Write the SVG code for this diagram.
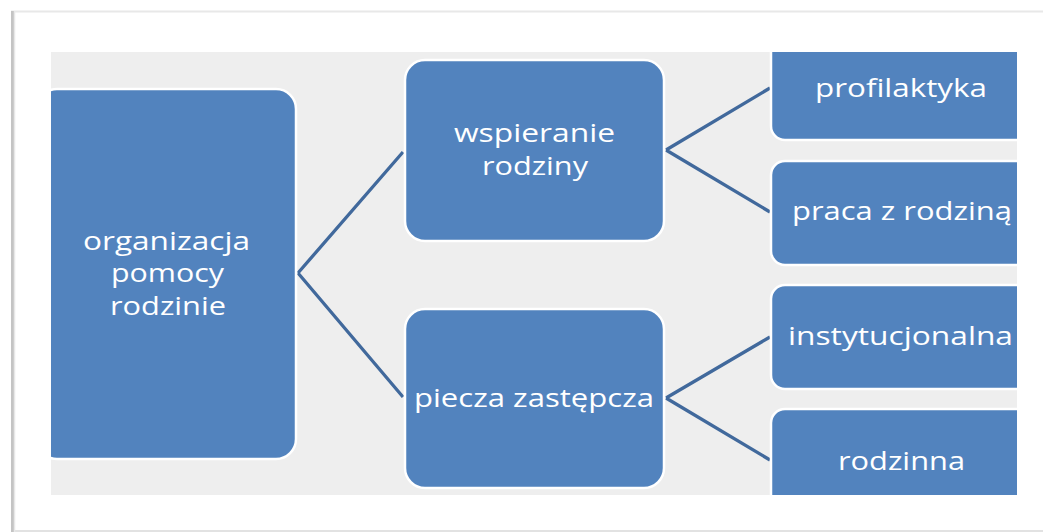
<svg xmlns="http://www.w3.org/2000/svg" width="1043" height="532" viewBox="0 0 1043 532">
<style>
.box{fill:#5283be;stroke:#ffffff;stroke-width:2.5}
.lbl{font-family:"Open Sans","Noto Sans",sans-serif;font-size:26px;fill:#ffffff;text-anchor:middle}
.sm{font-size:25px}
.con{stroke:#41699c;stroke-width:3.3;fill:none}
</style>
<defs>
<clipPath id="panel"><rect x="51" y="52" width="966" height="443"/></clipPath>
</defs>
<rect x="0" y="0" width="1043" height="532" fill="#ffffff"/>
<line x1="11" y1="11.5" x2="1043" y2="11.5" stroke="#e8e8e8" stroke-width="2"/>
<line x1="11" y1="531" x2="1043" y2="531" stroke="#e2e2e2" stroke-width="2"/>
<line x1="12.5" y1="11" x2="12.5" y2="532" stroke="#c4c4c4" stroke-width="3"/>
<line x1="14.5" y1="11" x2="14.5" y2="532" stroke="#e8e8e8" stroke-width="1.5"/>
<rect x="51" y="52" width="966" height="443" fill="#eeeeee"/>
<g clip-path="url(#panel)">
<g id="connectors">
<path class="con" d="M298 273 L403 152 M298 273 L403 397"/>
<path class="con" d="M666 150 L770 88 M666 150 L770 212"/>
<path class="con" d="M666 398 L770 337 M666 398 L770 460"/>
</g>
<g id="n-organizacja">
<rect class="box" x="37" y="89" width="259" height="370" rx="20"/>
<text class="lbl sm" x="166.5" y="250" textLength="167" lengthAdjust="spacingAndGlyphs">organizacja</text>
<text class="lbl sm" x="167.5" y="282" textLength="113" lengthAdjust="spacingAndGlyphs">pomocy</text>
<text class="lbl sm" x="168" y="315" textLength="116" lengthAdjust="spacingAndGlyphs">rodzinie</text>
</g>
<g id="n-wspieranie">
<rect class="box" x="405" y="60" width="259" height="181" rx="20"/>
<text class="lbl" x="534.5" y="142" textLength="161" lengthAdjust="spacingAndGlyphs">wspieranie</text>
<text class="lbl" x="535" y="175" textLength="106" lengthAdjust="spacingAndGlyphs">rodziny</text>
</g>
<g id="n-piecza">
<rect class="box" x="405" y="309" width="259" height="179" rx="20"/>
<text class="lbl" x="534" y="407" textLength="240" lengthAdjust="spacingAndGlyphs">piecza zastępcza</text>
</g>
<g id="n-profilaktyka">
<rect class="box" x="771" y="36" width="260" height="104" rx="14"/>
<text class="lbl" x="901" y="97" textLength="172" lengthAdjust="spacingAndGlyphs">profilaktyka</text>
</g>
<g id="n-praca">
<rect class="box" x="771" y="161" width="260" height="104" rx="14"/>
<text class="lbl" x="902" y="220" textLength="220" lengthAdjust="spacingAndGlyphs">praca z rodziną</text>
</g>
<g id="n-instytucjonalna">
<rect class="box" x="771" y="285" width="260" height="104" rx="14"/>
<text class="lbl" x="900.5" y="345" textLength="225" lengthAdjust="spacingAndGlyphs">instytucjonalna</text>
</g>
<g id="n-rodzinna">
<rect class="box" x="771" y="409" width="260" height="104" rx="14"/>
<text class="lbl" x="901.5" y="470" textLength="127" lengthAdjust="spacingAndGlyphs">rodzinna</text>
</g>
</g>
</svg>
